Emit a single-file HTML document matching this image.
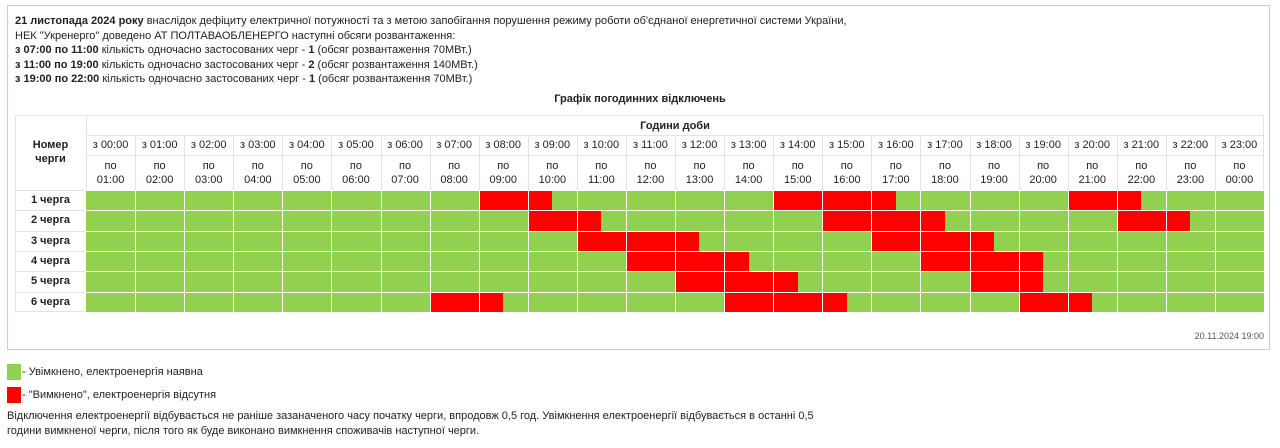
<!DOCTYPE html>
<html><head><meta charset="utf-8"><style>
body{margin:0;width:1280px;height:448px;background:#fff;font-family:"Liberation Sans","DejaVu Sans",sans-serif;color:#222;position:relative;overflow:hidden}
.a{position:absolute;white-space:nowrap}
.t{font-size:11px}
b{font-weight:bold}
#box{position:absolute;left:7px;top:5px;width:1263px;height:345px;border:1px solid #bcd3e3;box-sizing:border-box}
.c{position:absolute;font-size:11px;text-align:center;line-height:14px;color:#222}
.hl{position:absolute;background:#ddd}
</style></head><body>
<div id="box"></div>
<div class="a t" style="left:15px;top:15px"><b>21 листопада 2024 року</b> внаслідок дефіциту електричної потужності та з метою запобігання порушення режиму роботи об'єднаної енергетичної системи України,</div>
<div class="a t" style="left:15px;top:30px">НЕК "Укренерго" доведено АТ ПОЛТАВАОБЛЕНЕРГО наступні обсяги розвантаження:</div>
<div class="a t" style="left:15px;top:44px"><b>з 07:00 по 11:00</b> кількість одночасно застосованих черг - <b>1</b> (обсяг розвантаження 70МВт.)</div>
<div class="a t" style="left:15px;top:59px"><b>з 11:00 по 19:00</b> кількість одночасно застосованих черг - <b>2</b> (обсяг розвантаження 140МВт.)</div>
<div class="a t" style="left:15px;top:73px"><b>з 19:00 по 22:00</b> кількість одночасно застосованих черг - <b>1</b> (обсяг розвантаження 70МВт.)</div>
<div class="a t" style="left:0;width:1280px;text-align:center;top:93px"><b>Графік погодинних відключень</b></div>
<div id="tbl"></div>
<div class="a" style="left:1100px;width:164px;text-align:right;top:331px;font-size:9px;color:#555">20.11.2024 19:00</div>
<div class="a" style="left:7px;top:364px;width:14px;height:16px;background:#92d050"></div>
<div class="a t" style="left:22px;top:366px">- Увімкнено, електроенергія наявна</div>
<div class="a" style="left:7px;top:387px;width:14px;height:16px;background:#ff0000"></div>
<div class="a t" style="left:22px;top:389px">- "Вимкнено", електроенергія відсутня</div>
<div class="a t" style="left:7px;top:410px">Відключення електроенергії відбувається не раніше зазаначеного часу початку черги, впродовж 0,5 год. Увімкнення електроенергії відбувається в останні 0,5</div>
<div class="a t" style="left:7px;top:425px">години вимкненої черги, після того як буде виконано вимкнення споживачів наступної черги.</div>
<script>
var h='',L=86,W=1178/24,T=115,R=1264;
var rows=[190,210.3,230.6,251,271.3,291.6,312];
// table frame lines
h+='<div class="hl" style="left:15px;top:115px;width:1249px;height:1px;background:#e3e3e3"></div>';
h+='<div class="hl" style="left:15px;top:115px;width:1px;height:197px;background:#e3e3e3"></div>';
h+='<div class="hl" style="left:1263px;top:115px;width:1px;height:75px;background:#e3e3e3"></div>';
h+='<div class="hl" style="left:86px;top:115px;width:1px;height:75px;background:#e3e3e3"></div>';
h+='<div class="hl" style="left:86px;top:135px;width:1178px;height:1px;background:#e3e3e3"></div>';
h+='<div class="hl" style="left:86px;top:155px;width:1178px;height:1px;background:#e3e3e3"></div>';
h+='<div class="c" style="left:86px;width:1178px;top:119px"><b>Години доби</b></div>';
h+='<div class="c" style="left:15px;width:71px;top:138px"><b>Номер<br>черги</b></div>';
function p(n){return (n<10?'0':'')+n+':00'}
for(var i=0;i<24;i++){var x=L+i*W;
 if(i>0)h+='<div class="hl" style="left:'+x.toFixed(1)+'px;top:135px;width:1px;height:55px;background:#e3e3e3"></div>';
 h+='<div class="c" style="left:'+x.toFixed(1)+'px;width:'+W.toFixed(1)+'px;top:138px">з '+p(i)+'</div>';
 h+='<div class="c" style="left:'+x.toFixed(1)+'px;width:'+W.toFixed(1)+'px;top:159px">по<br>'+p((i+1)%24)+'</div>';}
var red=[[[8,9.5],[14,16.5],[20,21.5]],[[9,10.5],[15,17.5],[21,22.5]],[[10,12.5],[16,18.5]],[[11,13.5],[17,19.5]],[[12,14.5],[18,19.5]],[[7,8.5],[13,15.5],[19,20.5]]];
for(var r=0;r<6;r++){var y=rows[r],hh=rows[r+1]-y;
 h+='<div class="hl" style="left:15px;top:'+y+'px;width:71px;height:1px;background:#e3e3e3"></div>';
 h+='<div class="c" style="left:15px;width:71px;top:'+(y+3)+'px"><b>'+(r+1)+' черга</b></div>';
 h+='<div class="hl" style="left:86px;top:'+y+'px;width:1178px;height:'+hh+'px;background:#92d050"></div>';
 red[r].forEach(function(s){h+='<div class="hl" style="left:'+(L+s[0]*W).toFixed(1)+'px;top:'+y+'px;width:'+((s[1]-s[0])*W).toFixed(1)+'px;height:'+hh+'px;background:#ff0000"></div>';});
 h+='<div class="hl" style="left:86px;top:'+y+'px;width:1178px;height:1px;background:#fff"></div>';}
for(var i=1;i<24;i++){h+='<div class="hl" style="left:'+(L+i*W).toFixed(1)+'px;top:190px;width:1px;height:122px;background:#fff"></div>';}
h+='<div class="hl" style="left:15px;top:311px;width:71px;height:1px;background:#e3e3e3"></div>';
document.getElementById('tbl').innerHTML=h;
</script>
</body></html>
